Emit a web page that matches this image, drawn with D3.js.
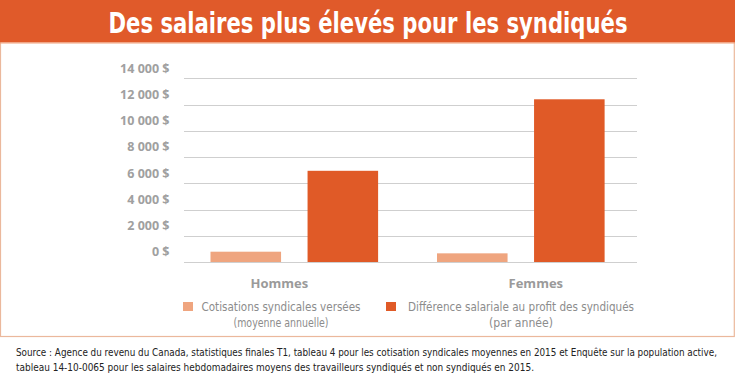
<!DOCTYPE html>
<html>
<head>
<meta charset="utf-8">
<script src="https://cdn.jsdelivr.net/npm/d3@7/dist/d3.min.js"></script>
<style>
  html, body { margin: 0; padding: 0; background: #fff; }
  svg { display: block; }
</style>
</head>
<body>
<svg id="chart" width="735" height="384"></svg>
<script>
// ---- Data ----
const categories = ["Hommes", "Femmes"];
const seriesNames = ["Cotisations syndicales versées", "Différence salariale au profit des syndiqués"];
const seriesSub = ["(moyenne annuelle)", "(par année)"];
const cotisations = [785, 660];
const difference = [6950, 12400];
const yTicks = [0, 2000, 4000, 6000, 8000, 10000, 12000, 14000];
const yTickLabels = ["0 $", "2 000 $", "4 000 $", "6 000 $", "8 000 $", "10 000 $", "12 000 $", "14 000 $"];
const titleText = "Des salaires plus élevés pour les syndiqués";
const sourceLines = [
  "Source : Agence du revenu du Canada, statistiques finales T1, tableau 4 pour les cotisation syndicales moyennes en 2015 et Enquête sur la population active,",
  "tableau 14-10-0065 pour les salaires hebdomadaires moyens des travailleurs syndiqués et non syndiqués en 2015."
];

const colors = ["#EFA57F", "#E05A27"];
const orange = "#E05A2A";
const borderCol = "#EBB89C";
const condensed = "'DejaVu Sans Condensed', 'Liberation Sans Narrow', 'DejaVu Sans', sans-serif";
const narrow = "'Liberation Sans Narrow', 'DejaVu Sans Condensed', sans-serif";

const svg = d3.select("#chart");

// ---- Frame ----
svg.append("rect").attr("x", 0.5).attr("y", 0.5).attr("width", 733.8).attr("height", 336)
  .attr("fill", "#fff").attr("stroke", borderCol).attr("stroke-width", 1.2);
svg.append("rect").attr("x", 0).attr("y", 0).attr("width", 735).attr("height", 42.5).attr("fill", orange);
svg.append("line").attr("x1", 0).attr("x2", 735).attr("y1", 43).attr("y2", 43)
  .attr("stroke", "#F1A07A").attr("stroke-width", 1);

svg.append("text").attr("x", 368).attr("y", 33.3)
  .attr("text-anchor", "middle")
  .attr("font-family", condensed).attr("font-weight", "bold").attr("font-size", 28)
  .attr("fill", "#fff")
  .attr("textLength", 519).attr("lengthAdjust", "spacingAndGlyphs")
  .text(titleText);

// ---- Scales ----
const y = d3.scaleLinear().domain([0, 14000]).range([262, 78.3]);
const x0 = d3.scaleBand().domain(categories).range([184, 637])
  .paddingInner(0.26).paddingOuter(0.13).align(0.45);
const x1 = d3.scaleBand().domain([0, 1]).range([0, x0.bandwidth()]).paddingInner(0.273);

// ---- Gridlines ----
svg.append("g").selectAll("line").data(yTicks).join("line")
  .attr("x1", 184).attr("x2", 637)
  .attr("y1", d => Math.round(y(d)) + 0.5).attr("y2", d => Math.round(y(d)) + 0.5)
  .attr("stroke", "#CFCFCF").attr("stroke-width", 1.2);

// ---- Y tick labels (sit above gridlines) ----
svg.append("g").selectAll("text").data(yTicks).join("text")
  .attr("x", 169.5).attr("y", d => y(d) - 10).attr("dy", "0.35em")
  .attr("text-anchor", "end")
  .attr("font-family", "'Open Sans', sans-serif").attr("font-weight", 700).attr("font-size", 12.5)
  .attr("fill", "#A0A0A0")
  .text((d, i) => yTickLabels[i]);

// ---- Bars ----
const rows = categories.map((c, i) => ({ cat: c, vals: [cotisations[i], difference[i]] }));
const groups = svg.append("g").selectAll("g").data(rows).join("g")
  .attr("transform", d => `translate(${x0(d.cat)},0)`);
groups.selectAll("rect").data(d => d.vals.map((v, k) => ({ v, k }))).join("rect")
  .attr("x", d => x1(d.k)).attr("width", x1.bandwidth())
  .attr("y", d => y(d.v)).attr("height", d => y(0) - y(d.v))
  .attr("fill", d => colors[d.k]);

// ---- Category labels ----
const labelShift = [-15, 15];
svg.append("g").selectAll("text").data(categories).join("text")
  .attr("x", (d, i) => x0(d) + x0.bandwidth() / 2 + labelShift[i])
  .attr("y", 283).attr("dy", "0.35em")
  .attr("text-anchor", "middle")
  .attr("font-family", "'Open Sans', sans-serif").attr("font-weight", 700).attr("font-size", 13)
  .attr("fill", "#9A9A9A")
  .text(d => d);

// ---- Legend ----
const legendX = [183, 386];
const legendTextCenter = [281, 521];
const legendW1 = [159, 226];
const legendW2 = [95, 64];
const lg = svg.append("g").selectAll("g").data(seriesNames).join("g");
lg.append("rect").attr("x", (d, i) => legendX[i]).attr("y", 302).attr("width", 10).attr("height", 9)
  .attr("fill", (d, i) => colors[i]);
lg.append("text").attr("x", (d, i) => legendTextCenter[i]).attr("y", 307).attr("dy", "0.35em")
  .attr("text-anchor", "middle")
  .attr("font-family", condensed).attr("font-size", 12).attr("fill", "#8C8C8C")
  .attr("textLength", (d, i) => legendW1[i]).attr("lengthAdjust", "spacingAndGlyphs")
  .text(d => d);
lg.append("text").attr("x", (d, i) => legendTextCenter[i]).attr("y", 322.5).attr("dy", "0.35em")
  .attr("text-anchor", "middle")
  .attr("font-family", condensed).attr("font-size", 12).attr("fill", "#8C8C8C")
  .attr("textLength", (d, i) => legendW2[i]).attr("lengthAdjust", "spacingAndGlyphs")
  .text((d, i) => seriesSub[i]);

// ---- Source (font size fitted so the natural width fits the line) ----
const srcW = [701, 518];
const srcText = svg.append("g").selectAll("text").data(sourceLines).join("text")
  .attr("x", 16).attr("y", (d, i) => 353 + i * 14.5).attr("dy", "0.35em")
  .attr("font-family", narrow).attr("font-size", 11).attr("fill", "#222")
  .text(d => d);
let fs = 11;
srcText.each(function (d, i) {
  const nat = this.getComputedTextLength();
  fs = Math.min(fs, 11 * (srcW[i] - 2) / nat);
});
srcText.attr("font-size", fs)
  .attr("textLength", (d, i) => srcW[i]).attr("lengthAdjust", "spacingAndGlyphs");
</script>
</body>
</html>
